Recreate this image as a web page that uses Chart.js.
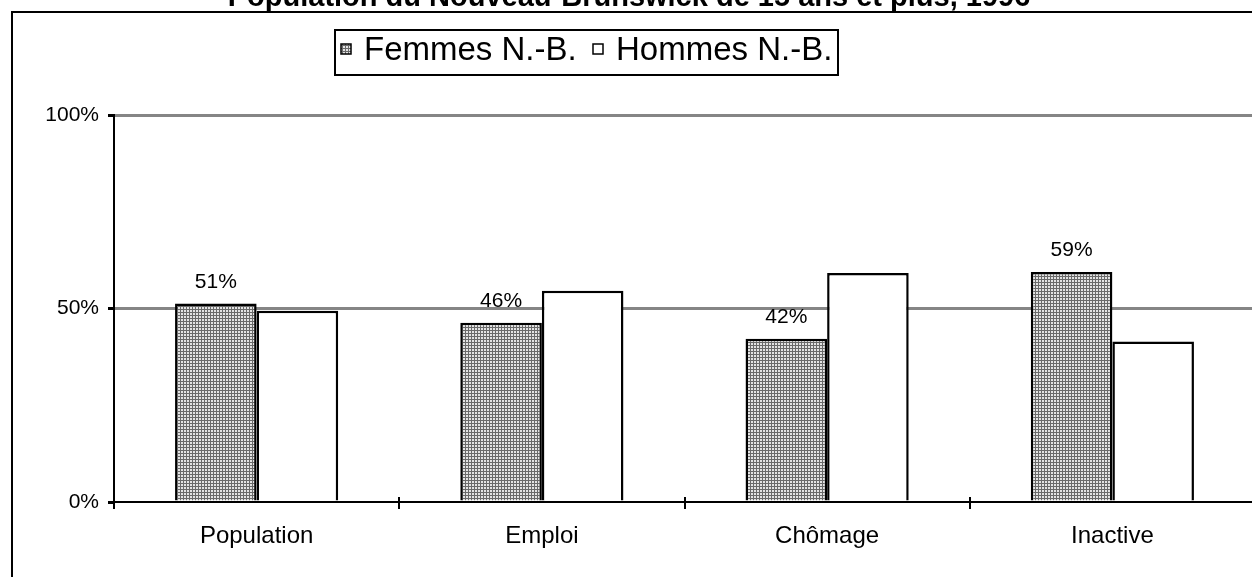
<!DOCTYPE html>
<html>
<head>
<meta charset="utf-8">
<script src="https://cdn.jsdelivr.net/npm/chart.js@4"></script>
<style>
  body { margin: 0; overflow: hidden; background: #fff; }
  #wrap { width: 1256px; height: 577px; }
</style>
</head>
<body>
<div id="wrap"><canvas id="myChart" width="1256" height="577"></canvas></div>
<script>
// data
const categories = ['Population', 'Emploi', 'Chômage', 'Inactive'];
const femmes = [51.3, 46.3, 42.2, 59.4];
const hommes = [49.4, 54.6, 59.2, 41.5];
const femmesLabels = ['51%', '46%', '42%', '59%'];
const seriesNames = ['Femmes N.-B.', 'Hommes N.-B.'];
const titleText = 'Population du Nouveau-Brunswick de 15 ans et plus, 1996';

const FONT = '"Liberation Sans", Arial, sans-serif';

// fine grey grid fill used for the Femmes bars
const makePattern = function () {
  var c = document.createElement('canvas');
  c.width = 3; c.height = 3;
  var p = c.getContext('2d');
  p.fillStyle = '#e4e4e4';
  p.fillRect(0, 0, 3, 3);
  p.fillStyle = '#6a6a6a';
  p.fillRect(0, 0, 3, 1);
  p.fillRect(0, 0, 1, 3);
  return p.createPattern(c, 'repeat');
};

var ctx = document.getElementById('myChart');
var grid = makePattern();

// frame, cut-off title, legend box, value labels, crossing ticks
const decor = {
  id: 'decor',
  afterDraw: function (chart) {
    var c = chart.ctx;
    var ca = chart.chartArea;
    c.save();

    // outer frame (only top and left fall inside the picture)
    c.strokeStyle = '#000';
    c.lineWidth = 2;
    c.beginPath();
    c.moveTo(12, chart.height);
    c.lineTo(12, 12);
    c.lineTo(chart.width, 12);
    c.stroke();

    // title, mostly above the picture
    c.fillStyle = '#000';
    c.font = 'bold 29px ' + FONT;
    c.textAlign = 'center';
    c.textBaseline = 'alphabetic';
    c.fillText(titleText, 629, 6);

    // legend
    c.fillStyle = '#fff';
    c.fillRect(335, 30, 503, 45);
    c.lineWidth = 2;
    c.strokeRect(335, 30, 503, 45);
    c.font = '33px ' + FONT;
    c.textAlign = 'left';
    c.textBaseline = 'middle';
    c.lineWidth = 1.5;
    c.fillStyle = grid;
    c.fillRect(341, 44, 10, 10);
    c.strokeRect(341, 44, 10, 10);
    c.fillStyle = '#fff';
    c.fillRect(593, 44, 10, 10);
    c.strokeRect(593, 44, 10, 10);
    c.fillStyle = '#000';
    c.fillText(seriesNames[0], 364, 51);
    c.fillText(seriesNames[1], 616, 51);

    // value labels above the Femmes bars
    c.font = '21px ' + FONT;
    c.textAlign = 'center';
    c.textBaseline = 'bottom';
    chart.getDatasetMeta(0).data.forEach(function (bar, i) {
      c.fillText(femmesLabels[i], bar.x, bar.y - 11);
    });

    // category ticks also poke a little above the axis
    var xs = chart.scales.x;
    var half = (xs.getPixelForValue(1) - xs.getPixelForValue(0)) / 2;
    c.lineWidth = 2;
    c.strokeStyle = '#000';
    c.beginPath();
    for (var i = 0; i <= categories.length; i++) {
      var x = Math.round(xs.getPixelForValue(i) - half);
      c.moveTo(x, ca.bottom - 5);
      c.lineTo(x, ca.bottom);
    }
    c.moveTo(ca.left, ca.bottom);
    c.lineTo(ca.left + 4, ca.bottom);
    c.stroke();

    c.restore();
  }
};

var myChart = new Chart(ctx, {
  type: 'bar',
  data: {
    labels: categories,
    datasets: [{
      label: seriesNames[0],
      data: femmes,
      backgroundColor: grid,
      borderColor: '#000',
      borderWidth: 2.5
    }, {
      label: seriesNames[1],
      data: hommes,
      backgroundColor: '#fff',
      borderColor: '#000',
      borderWidth: 2.5
    }]
  },
  options: {
    responsive: false,
    animation: false,
    layout: { padding: { top: 115, left: 0, right: 1, bottom: 0 } },
    categoryPercentage: 0.572,
    barPercentage: 1,
    plugins: {
      legend: { display: false },
      title: { display: false },
      tooltip: { enabled: false }
    },
    scales: {
      x: {
        afterFit: function (s) { s.height = 75; },
        grid: {
          drawOnChartArea: false,
          drawTicks: true,
          tickLength: 7,
          tickColor: '#000',
          lineWidth: 2,
          offset: true
        },
        border: { color: '#000', width: 2 },
        ticks: {
          color: '#000',
          padding: 13,
          font: { family: FONT, size: 24 }
        }
      },
      y: {
        min: 0,
        max: 100,
        afterFit: function (s) { s.width = 114; },
        grid: {
          color: function (c) { return c.tick && c.tick.value === 0 ? 'rgba(0,0,0,0)' : '#858585'; },
          lineWidth: 3,
          drawTicks: true,
          tickLength: 6,
          tickColor: '#000'
        },
        border: { color: '#000', width: 2 },
        ticks: {
          stepSize: 50,
          color: '#000',
          padding: 9,
          font: { family: FONT, size: 21 },
          callback: function (v) { return v + '%'; }
        }
      }
    }
  },
  plugins: [decor]
});
</script>
</body>
</html>
